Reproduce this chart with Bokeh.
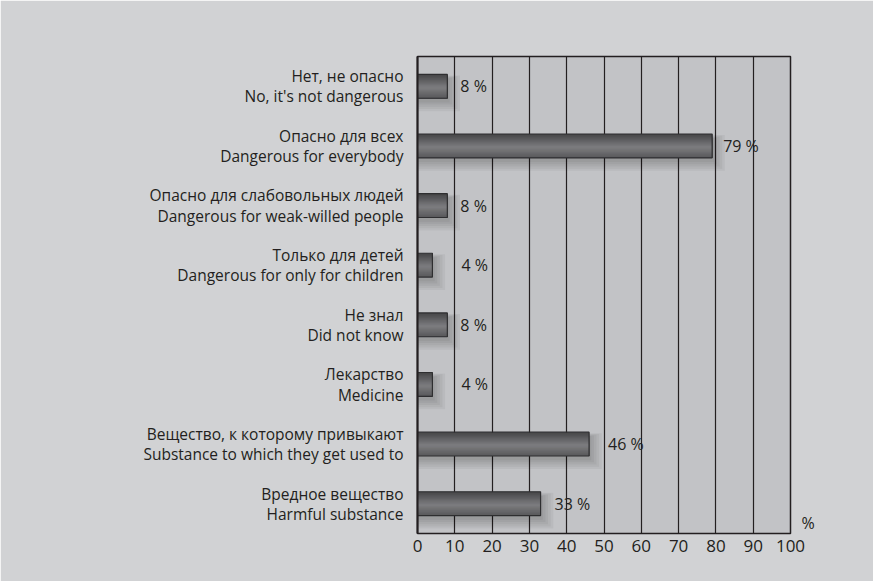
from bokeh.plotting import figure
from bokeh.models import Label, FixedTicker, Range1d, LinearAxis
from bokeh.embed import file_html
from bokeh.resources import INLINE

# ---- data ----
categories_ru = ["Нет, не опасно", "Опасно для всех", "Опасно для слабовольных людей",
                 "Только для детей", "Не знал", "Лекарство",
                 "Вещество, к которому привыкают", "Вредное вещество"]
categories_en = ["No, it's not dangerous", "Dangerous for everybody",
                 "Dangerous for weak-willed people", "Dangerous for only for children",
                 "Did not know", "Medicine", "Substance to which they get used to",
                 "Harmful substance"]
values = [8, 79, 8, 4, 8, 4, 46, 33]
x_ticks = [0, 10, 20, 30, 40, 50, 60, 70, 80, 90, 100]
unit_label = "%"

# ---- style ----
FONT = "Open Sans"
TXT = "#231f20"
label_px_offsets = [13, 11, 13, 29, 13, 29, 19, 14]
BAR_H = 0.40

n = len(values)
ypos = [n - i for i in range(n)]

p = figure(width=873, height=581, x_range=Range1d(0, 100), y_range=Range1d(0.5, n + 0.5),
           output_backend="svg", toolbar_location=None, y_axis_location=None,
           min_border_left=417, min_border_right=83, min_border_top=56, min_border_bottom=48)
p.background_fill_color = "#c2c3c6"
p.border_fill_color = "#d1d2d4"
p.outline_line_color = TXT
p.outline_line_width = 1.5

p.ygrid.grid_line_color = None
p.xaxis.ticker = FixedTicker(ticks=x_ticks)
p.xgrid.ticker = FixedTicker(ticks=x_ticks)
p.xgrid.grid_line_color = TXT
p.xgrid.grid_line_width = 1.2
p.xgrid.grid_line_alpha = 1
p.xaxis.axis_line_color = None
p.xaxis.major_tick_line_color = None
p.xaxis.minor_tick_line_color = None
p.xaxis.major_tick_out = 0
p.xaxis.major_tick_in = 0
p.xaxis.major_label_standoff = 6
p.xaxis.major_label_text_font = FONT
p.xaxis.major_label_text_font_size = "17px"
p.xaxis.major_label_text_color = TXT

# left category axis (two-line labels)
yax = LinearAxis(ticker=FixedTicker(ticks=ypos),
                 major_label_overrides={y: categories_ru[i] + "\n" + categories_en[i]
                                        for i, y in enumerate(ypos)})
yax.axis_line_color = TXT
yax.axis_line_width = 2
yax.major_tick_line_color = None
yax.minor_tick_line_color = None
yax.major_tick_out = 0
yax.major_tick_in = 0
yax.major_label_standoff = 14
yax.major_label_text_font = FONT
yax.major_label_text_font_size = "15.5px"
yax.major_label_text_color = TXT
yax.major_label_text_line_height = 0.92
yax.major_label_text_align = "right"
p.add_layout(yax, "left")

# right axis carrying only the unit sign
rax = LinearAxis(ticker=FixedTicker(ticks=[0.68]), major_label_overrides={0.68: unit_label})
rax.axis_line_color = None
rax.major_tick_line_color = None
rax.minor_tick_line_color = None
rax.major_tick_out = 0
rax.major_tick_in = 0
rax.major_label_standoff = 11
rax.major_label_text_font = FONT
rax.major_label_text_font_size = "16px"
rax.major_label_text_color = TXT
p.add_layout(rax, "right")

# shadow layers
for k in range(5):
    p.hbar(y=[y - 0.07 - 0.012 * k for y in ypos], left=0,
           right=[v + 0.6 + 0.7 * k for v in values], height=BAR_H + 0.05 * k,
           fill_color="black", fill_alpha=0.045, line_color=None)

# gradient (overlapping strips, top to bottom)
def mix(c1, c2, t):
    return "#%02x%02x%02x" % tuple(int(round(a + (b - a) * t)) for a, b in zip(c1, c2))

stops = [(0.0, (0x44, 0x44, 0x46)), (0.55, (0x7d, 0x7d, 0x80)), (1.0, (0x58, 0x58, 0x5a))]
NS = 20
for s in range(NS):
    t = (s + 0.5) / NS
    for (t0, c0), (t1, c1) in zip(stops[:-1], stops[1:]):
        if t0 <= t <= t1:
            col = mix(c0, c1, (t - t0) / (t1 - t0))
            break
    top_off = s * BAR_H / NS
    h = BAR_H - top_off
    yc = [y + BAR_H / 2 - top_off - h / 2 for y in ypos]
    p.hbar(y=yc, left=0, right=values, height=h, fill_color=col, line_color=None)

p.hbar(y=ypos, left=0, right=values, height=BAR_H, fill_alpha=0,
       line_color="#2e2e30", line_width=1.2)

# value labels
for i in range(n):
    p.add_layout(Label(x=values[i], y=ypos[i], text="%d %%" % values[i],
                       x_offset=label_px_offsets[i], y_offset=0, text_align="left",
                       text_baseline="middle", text_font=FONT, text_font_size="16px",
                       text_color=TXT))

open("out.html", "w").write(file_html(p, INLINE))
